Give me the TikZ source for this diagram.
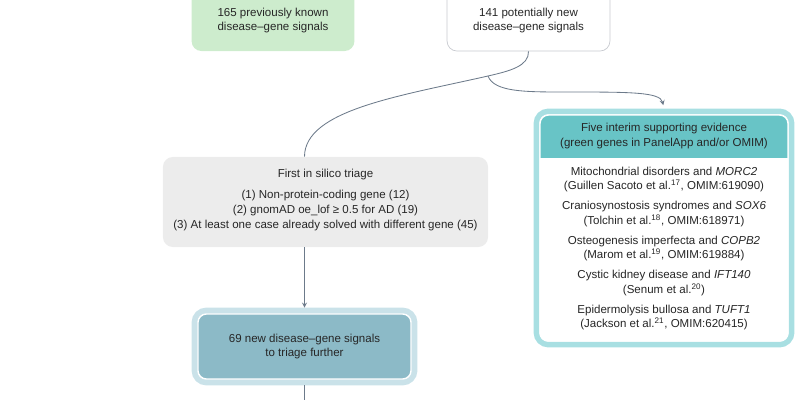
\documentclass[tikz,border=0pt]{standalone}
\usepackage{fontspec}
\setmainfont{Liberation Sans}
\usepackage{tikz}
\usetikzlibrary{arrows}
\usepackage{xcolor}
\definecolor{Known}{RGB}{205,236,205}
\definecolor{Triage}{RGB}{236,236,236}
\definecolor{Further}{RGB}{140,186,199}
\definecolor{FurtherRim}{RGB}{202,226,233}
\definecolor{Evid}{RGB}{104,196,198}
\definecolor{EvidRim}{RGB}{168,223,226}
\definecolor{Link}{RGB}{108,122,138}
\definecolor{Ink}{RGB}{38,38,38}
\definecolor{Edge}{RGB}{200,202,208}

\begin{document}
\begin{tikzpicture}[x=0.025cm,y=-0.025cm,>=stealth,
  every node/.style={font=\fontsize{8.2}{10.5}\selectfont,text=Ink,align=center},
  link/.style={draw=Link,line width=0.6pt},
  signal/.style={rounded corners=7pt,minimum width=4.07cm,minimum height=1.525cm},
  rimbox/.style={rounded corners=6pt,draw=white,line width=1pt,
    preaction={draw=#1,line width=9pt}}]
\useasboundingbox (0,0) rectangle (800,400);

\node[signal,fill=Known] (known) at (273,20.5) {165 previously known\\disease--gene signals};
\node[signal,fill=white,draw=Edge,line width=0.5pt] (newsig) at (528.5,20.5) {141 potentially new\\disease--gene signals};

\node[fill=Triage,rounded corners=7pt,minimum width=8.125cm,minimum height=2.25cm] (triage) at (325.5,202) {};
\node (triagetext) at (325.5,200) {First in silico triage\\[4.3pt]
  (1) Non-protein-coding gene (12)\\
  (2) gnomAD oe\_lof ≥ 0.5 for AD (19)\\
  (3) At least one case already solved with different gene (45)};

\node[rimbox=FurtherRim,fill=Further,outer sep=4.5pt,minimum width=5.325cm,minimum height=1.625cm] (further) at (304.5,346.5) {69 new disease--gene signals\\to triage further};

\node[rimbox=EvidRim,fill=white,outer sep=5pt,minimum width=6.2cm,minimum height=5.65cm] (evid) at (664,228) {};
\begin{scope}
\clip[rounded corners=6pt] (540,115) rectangle (788,341);
\fill[Evid] (540,115) rectangle (788,158);
\end{scope}
\draw[white,line width=1pt,rounded corners=6pt] (540,115) rectangle (788,341);
\node (evhead) at (664,136) {Five interim supporting evidence\\(green genes in PanelApp and/or OMIM)};
\node (evlist) at (664,248.5) {Mitochondrial disorders and \textit{MORC2}\\
  (Guillen Sacoto et al.\textsuperscript{17}, OMIM:619090)\\[3.5pt]
  Craniosynostosis syndromes and \textit{SOX6}\\
  (Tolchin et al.\textsuperscript{18}, OMIM:618971)\\[3.5pt]
  Osteogenesis imperfecta and \textit{COPB2}\\
  (Marom et al.\textsuperscript{19}, OMIM:619884)\\[3.5pt]
  Cystic kidney disease and \textit{IFT140}\\
  (Senum et al.\textsuperscript{20})\\[3.5pt]
  Epidermolysis bullosa and \textit{TUFT1}\\
  (Jackson et al.\textsuperscript{21}, OMIM:620415)};

\coordinate (split) at (488,76);
\coordinate (bottom) at (304.5,400);
\draw[link] (newsig.south) .. controls (529,66) and (510,71) .. (split);
\draw[link] (split) .. controls (400,96) and (304.5,110) .. (triage.north -| further.north);
\draw[link,->,shorten >=2pt] (split) .. controls (494,92) and (525,92) .. (565,92) .. controls (630,92) and (660,92) .. (evid.north);
\draw[link,->] (triage.south -| further.north) -- (further.north);
\draw[link] (further.south) -- (bottom);
\end{tikzpicture}
\end{document}
